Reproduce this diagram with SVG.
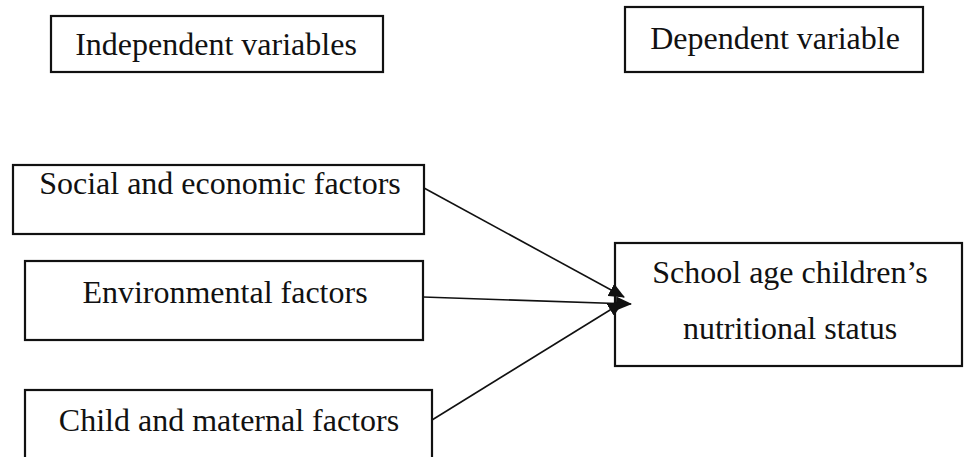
<svg xmlns="http://www.w3.org/2000/svg" width="964" height="457" viewBox="0 0 964 457">
<style>
.box{fill:#fff;stroke:#111;stroke-width:2.2}
.t{font-family:"Liberation Serif","Times New Roman",serif;font-size:32px;fill:#111;text-anchor:middle}
.c{stroke:#111;stroke-width:1.6;fill:none;marker-end:url(#ah)}
</style>
<defs>
<marker id="ah" markerWidth="16" markerHeight="14" refX="15" refY="7" orient="auto" markerUnits="userSpaceOnUse">
<path d="M0,0 L16,7 L0,14 Z" fill="#111"/>
</marker>
</defs>
<rect width="964" height="457" fill="#fff"/>
<g id="indep">
<rect class="box" x="51" y="16" width="332" height="56"/>
<text class="t" x="216" y="55">Independent variables</text>
</g>
<g id="dep">
<rect class="box" x="625" y="7" width="298" height="65"/>
<text class="t" x="775" y="49">Dependent variable</text>
</g>
<g id="social">
<rect class="box" x="13" y="165" width="411" height="69"/>
<text class="t" x="220" y="194">Social and economic factors</text>
</g>
<g id="env">
<rect class="box" x="25" y="261" width="398" height="79"/>
<text class="t" x="225" y="303">Environmental factors</text>
</g>
<g id="child">
<rect class="box" x="25" y="390" width="407" height="90"/>
<text class="t" x="229" y="431">Child and maternal factors</text>
</g>
<g id="status">
<rect class="box" x="615" y="243" width="347" height="123"/>
<text class="t" x="790" y="283">School age children’s</text>
<text class="t" x="790" y="339">nutritional status</text>
</g>
<g id="connectors">
<line class="c" x1="424" y1="188" x2="624" y2="297"/>
<line class="c" x1="423" y1="297" x2="631" y2="304"/>
<line class="c" x1="432" y1="420" x2="623" y2="302"/>
</g>
</svg>
